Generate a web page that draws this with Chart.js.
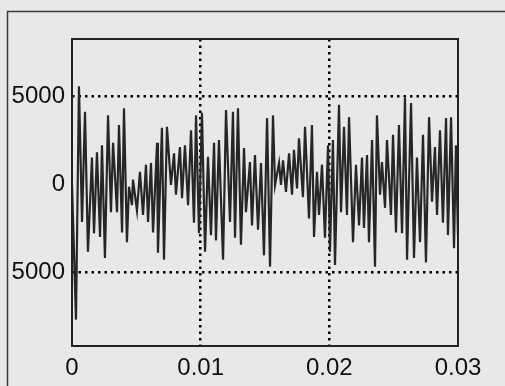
<!DOCTYPE html>
<html>
<head>
<meta charset="utf-8">
<script src="https://cdn.jsdelivr.net/npm/chart.js@4/dist/chart.umd.min.js"></script>
<style>
  html, body { margin: 0; padding: 0; background: #e8e8e8; }
  #wrap { width: 505px; height: 386px; position: relative; }
</style>
</head>
<body>
<div id="wrap"><canvas id="c" width="505" height="386"></canvas></div>
<script>
// Time (s) of each turning point
const times = [
  0, 0.00031, 0.00054, 0.00078, 0.00101, 0.00124, 0.00155, 0.00171, 0.00194, 0.00218,
  0.00233, 0.00256, 0.00280, 0.00303, 0.00319, 0.00350, 0.00365, 0.00389, 0.00404, 0.00427,
  0.00443, 0.00466, 0.00474, 0.00505, 0.00528, 0.00552, 0.00575, 0.00591, 0.00614, 0.00630,
  0.00661, 0.00668, 0.00699, 0.00715, 0.00738, 0.00769, 0.00793, 0.00808, 0.00839, 0.00855,
  0.00878, 0.00902, 0.00925, 0.00948, 0.00964, 0.00987, 0.01010, 0.01034, 0.01057, 0.01080,
  0.01104, 0.01119, 0.01142, 0.01174, 0.01197, 0.01228, 0.01251, 0.01267, 0.01290, 0.01313,
  0.01337, 0.01352, 0.01383, 0.01399, 0.01422, 0.01446, 0.01469, 0.01492, 0.01516, 0.01539,
  0.01562, 0.01578, 0.01609, 0.01624, 0.01640, 0.01663, 0.01687, 0.01710, 0.01725, 0.01749,
  0.01764, 0.01795, 0.01811, 0.01842, 0.01865, 0.01881, 0.01904, 0.01920, 0.01943, 0.01966,
  0.01990, 0.02005, 0.02028, 0.02044, 0.02075, 0.02091, 0.02114, 0.02137, 0.02153, 0.02184,
  0.02207, 0.02231, 0.02254, 0.02269, 0.02293, 0.02308, 0.02332, 0.02355, 0.02370, 0.02394,
  0.02409, 0.02433, 0.02448, 0.02479, 0.02495, 0.02518, 0.02541, 0.02565, 0.02588, 0.02604,
  0.02635, 0.02658, 0.02681, 0.02705, 0.02728, 0.02751, 0.02775, 0.02798, 0.02821, 0.02837,
  0.02860, 0.02883, 0.02907, 0.02922, 0.02946, 0.02969, 0.02984, 0.03000
];
// Signal value at each turning point
const signal = [
  0, -7700, 5550, -2150, 4100, -3850, 1500, -2800, 1800, -3000,
  2200, -4200, 3900, -1600, 2350, -1600, 3350, -2750, 4300, -3300,
  -150, -1200, 250, -1500, 700, -1750, 1100, -2150, 1200, -2750,
  2350, -3900, 3200, -4300, 3250, -50, 1750, -600, 2100, -800,
  2200, -1200, 3050, -2200, 3900, -2800, 4050, -3850, 1550, -2900,
  2350, -3200, 2500, -4300, 4200, -2150, 4100, -3050, 4300, -3450,
  2050, -1600, 1250, -2350, 1650, -2600, 1200, -4050, 3750, -4700,
  3900, -50, 1200, -50, 1350, -450, 1750, -600, 1950, -250,
  2600, -750, 3250, -1950, 3350, -3000, 700, -1750, 1100, -3050,
  2200, -3850, 2500, -4600, 4500, -1600, 3250, -1750, 3800, -3300,
  1100, -2350, 1500, -2500, 1650, -3300, 2500, -4700, 3900, -600,
  1250, -1350, 2500, -1750, 2800, -2750, 3350, -2800, 4900, -4300,
  4600, -4200, 1500, -3300, 2800, -4450, 3800, -1000, 2100, -1750,
  3050, -2200, 3750, -2900, 3800, -3650, 2200, -2900
];
const xTicks = [0, 0.01, 0.02, 0.03];
const xTickLabels = ['0', '0.01', '0.02', '0.03'];
const yTicks = [-5000, 0, 5000];
const yTickLabels = ['5000', '0', '5000'];
const xGridAt = [0.01, 0.02];
const yGridAt = [-5000, 5000];

const points = times.map((t, i) => ({ x: t, y: signal[i] }));

const pageFrame = {
  id: 'pageFrame',
  beforeDraw(chart) {
    const ctx = chart.ctx;
    ctx.save();
    ctx.fillStyle = '#e8e8e8';
    ctx.fillRect(0, 0, chart.width, chart.height);
    ctx.strokeStyle = '#3a3a3a';
    ctx.lineWidth = 1.5;
    ctx.beginPath();
    ctx.moveTo(7.5, chart.height);
    ctx.lineTo(7.5, 11.5);
    ctx.lineTo(chart.width, 11.5);
    ctx.stroke();
    ctx.restore();
  },
  afterDraw(chart) {
    const a = chart.chartArea;
    const ctx = chart.ctx;
    ctx.save();
    ctx.strokeStyle = '#222';
    ctx.lineWidth = 2;
    ctx.strokeRect(a.left, a.top, a.right - a.left, a.bottom - a.top);
    ctx.restore();
  }
};

const font = { family: "'Liberation Sans', Arial, sans-serif", size: 24 };

new Chart(document.getElementById('c'), {
  type: 'line',
  data: {
    datasets: [{
      data: points,
      borderColor: '#262626',
      borderWidth: 2.2,
      pointRadius: 0,
      tension: 0,
      fill: false
    }]
  },
  options: {
    responsive: false,
    devicePixelRatio: 1,
    animation: false,
    events: [],
    layout: { padding: { left: 0, top: 39, right: 47, bottom: 0 } },
    plugins: { legend: { display: false }, tooltip: { enabled: false } },
    scales: {
      x: {
        type: 'linear',
        min: 0,
        max: 0.03,
        afterBuildTicks: s => { s.ticks = xTicks.map(v => ({ value: v })); },
        afterFit: s => { s.height = 40; },
        ticks: {
          autoSkip: false,
          maxRotation: 0,
          padding: 8,
          color: '#111',
          font: font,
          callback: (v, i) => xTickLabels[i]
        },
        grid: {
          drawTicks: false,
          lineWidth: 2.5,
          color: c => (c.tick && xGridAt.some(g => Math.abs(g - c.tick.value) < 1e-9)) ? '#000' : 'rgba(0,0,0,0)'
        },
        border: { display: false, dash: [2.5, 4] }
      },
      y: {
        type: 'linear',
        min: -9200,
        max: 8240,
        afterBuildTicks: s => { s.ticks = yTicks.map(v => ({ value: v })); },
        afterFit: s => { s.width = 72; },
        ticks: {
          autoSkip: false,
          padding: 7,
          color: '#111',
          font: font,
          callback: (v, i) => yTickLabels[i]
        },
        grid: {
          drawTicks: false,
          lineWidth: 2.5,
          color: c => (c.tick && yGridAt.includes(c.tick.value)) ? '#000' : 'rgba(0,0,0,0)'
        },
        border: { display: false, dash: [2.5, 4] }
      }
    }
  },
  plugins: [pageFrame]
});
</script>
</body>
</html>
